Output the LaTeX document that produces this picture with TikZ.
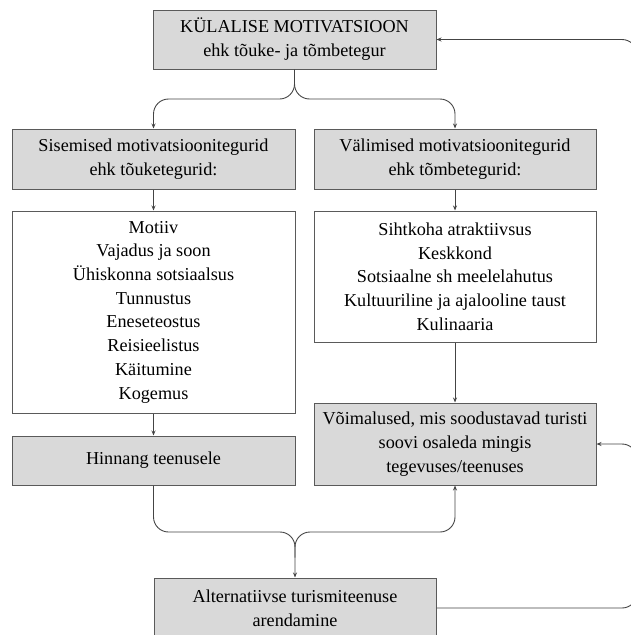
\documentclass[tikz,border=0pt]{standalone}
\usepackage{fontspec}
\setmainfont{Liberation Serif}
\usetikzlibrary{arrows.meta}
\definecolor{boxfill}{HTML}{D9D9D9}
\definecolor{boxline}{HTML}{5A5A5A}
\definecolor{linecol}{HTML}{444444}
\begin{document}
\begin{tikzpicture}[x=1pt,y=-1pt,
  box/.style={draw=boxline, line width=1pt, fill=boxfill, inner sep=0pt, align=center,
    font=\fontsize{18.2}{24}\selectfont},
  wbox/.style={box, fill=white, font=\fontsize{18.2}{23.7}\selectfont},
  conn/.style={draw=linecol, line width=0.9pt, rounded corners=15pt},
  arr/.style={conn, -{Stealth[length=5pt,width=4pt]}}]
\useasboundingbox (0,0) rectangle (631,635);

\node[box, minimum width=283pt, minimum height=59pt] (top) at (294.5,39.5)
  {KÜLALISE MOTIVATSIOON\\ehk tõuke- ja tõmbetegur};
\node[box, minimum width=283pt, minimum height=60pt] (sis) at (153.5,159)
  {Sisemised motivatsioonitegurid\\ehk tõuketegurid:};
\node[box, minimum width=282pt, minimum height=60pt] (val) at (455,159)
  {Välimised motivatsioonitegurid\\ehk tõmbetegurid:};
\node[wbox, minimum width=283pt, minimum height=202pt] (lw) at (153.5,312)
  {Motiiv\\Vajadus ja soon\\Ühiskonna sotsiaalsus\\Tunnustus\\Eneseteostus\\Reisieelistus\\Käitumine\\Kogemus};
\node[wbox, minimum width=282pt, minimum height=131pt] (rw) at (455,276.5)
  {Sihtkoha atraktiivsus\\Keskkond\\Sotsiaalne sh meelelahutus\\Kultuuriline ja ajalooline taust\\Kulinaaria};
\node[box, minimum width=283pt, minimum height=49pt] (hin) at (153.5,460.5)
  {Hinnang teenusele};
\node[box, minimum width=282pt, minimum height=82pt] (vo) at (455,444)
  {Võimalused, mis soodustavad turisti\\soovi osaleda mingis\\tegevuses/teenuses};
\node[box, minimum width=282pt, minimum height=60pt] (alt) at (295,608)
  {Alternatiivse turismiteenuse\\arendamine};

\coordinate (tj) at (294.5,99);
\coordinate (bj) at (295,532);
\coordinate (rt) at (637,39.5);
\coordinate (rb) at (637,608);
\coordinate (rv) at (637,444);
\coordinate (rs) at (637,530);

% top brace
\draw[arr] (top.south) -- (tj) -- (tj -| sis.north) -- (sis.north);
\draw[arr] (top.south) -- (tj) -- (tj -| val.north) -- (val.north);

% column arrows
\draw[arr] (sis.south) -- (lw.north);
\draw[arr] (val.south) -- (rw.north);
\draw[arr] (lw.south) -- (hin.north);
\draw[arr] (rw.south) -- (vo.north);

% bottom brace
\draw[arr] (hin.south) -- (bj -| hin.south) -- (bj) -- (alt.north);
\draw[arr] (alt.north) ++(0,-20) -- (bj) -- (bj -| vo.south) -- (vo.south);

% feedback loops
\draw[arr] (alt.east) -- (rb) -- (rt) -- (top.east);
\draw[arr] (rs) -- (rv) -- (vo.east);
\end{tikzpicture}
\end{document}
